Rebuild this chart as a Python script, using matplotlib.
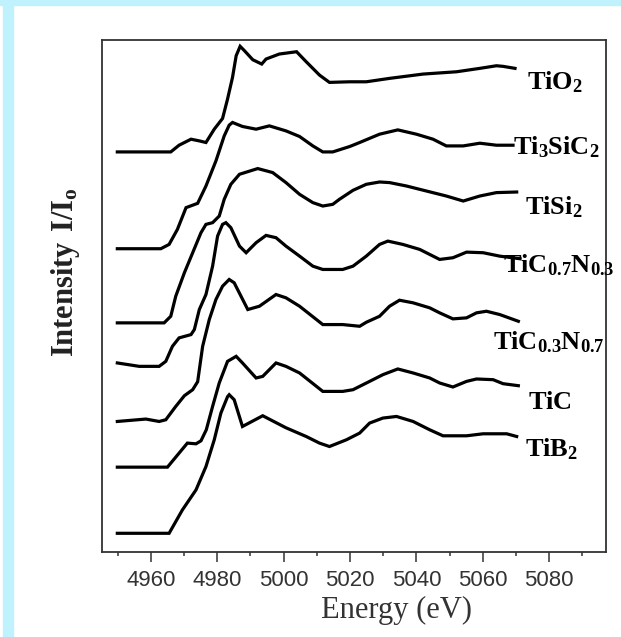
import matplotlib
matplotlib.use('Agg')
import matplotlib.pyplot as plt
from matplotlib.patches import Rectangle

plt.rcParams['mathtext.fontset'] = 'custom'
plt.rcParams['mathtext.bf'] = 'Liberation Serif:bold'
plt.rcParams['mathtext.rm'] = 'Liberation Serif:bold'

# Ti K-edge XANES spectra, stacked (energy in eV, intensity in arb. units with offset)
tio2_e = [4949.9, 4966.0, 4968.5, 4972.1, 4974.6, 4976.6, 4979.1, 4981.6, 4983.1, 4984.6,
          4985.7, 4986.9, 4988.2, 4990.7, 4993.4, 4994.7, 4998.7, 5003.9, 5006.8, 5010.8,
          5013.8, 5019.9, 5024.9, 5031.9, 5042.0, 5052.1, 5059.1, 5064.1, 5066.1, 5069.7]
tio2_i = [3.993, 3.993, 4.06, 4.12, 4.103, 4.087, 4.22, 4.327, 4.52, 4.737,
          4.953, 5.047, 5.003, 4.913, 4.87, 4.92, 4.97, 4.993, 4.893, 4.76,
          4.687, 4.693, 4.693, 4.727, 4.77, 4.793, 4.827, 4.853, 4.847, 4.827]

ti3sic2_e = [4949.9, 4963.0, 4965.5, 4968.0, 4970.6, 4974.1, 4976.6, 4979.6, 4982.1, 4983.6,
             4984.6, 4987.6, 4991.7, 4995.7, 5000.7, 5004.8, 5008.8, 5011.8, 5014.8, 5019.9,
             5022.9, 5028.9, 5034.4, 5040.0, 5045.0, 5049.0, 5054.1, 5059.1, 5064.1, 5069.1]
ti3sic2_i = [3.027, 3.027, 3.07, 3.22, 3.437, 3.48, 3.653, 3.903, 4.153, 4.26,
             4.287, 4.247, 4.22, 4.253, 4.203, 4.147, 4.053, 3.993, 3.993, 4.047,
             4.087, 4.17, 4.213, 4.17, 4.12, 4.053, 4.053, 4.08, 4.06, 4.06]

tisi2_e = [4949.9, 4964.0, 4966.0, 4967.5, 4970.1, 4972.6, 4975.1, 4976.6, 4978.6, 4980.6,
           4982.1, 4984.1, 4986.7, 4992.2, 4996.7, 5000.7, 5004.8, 5008.8, 5011.8, 5014.8,
           5016.8, 5020.9, 5024.9, 5028.9, 5031.9, 5037.0, 5043.0, 5049.0, 5054.1, 5059.1,
           5064.1, 5070.2]
tisi2_i = [2.287, 2.287, 2.353, 2.553, 2.787, 2.987, 3.187, 3.27, 3.287, 3.353,
           3.52, 3.67, 3.77, 3.827, 3.787, 3.687, 3.57, 3.487, 3.453, 3.47,
           3.52, 3.61, 3.67, 3.693, 3.687, 3.653, 3.603, 3.553, 3.503, 3.553,
           3.587, 3.593]

ticn73_e = [4949.9, 4956.5, 4962.5, 4964.5, 4966.5, 4968.5, 4972.1, 4973.1, 4974.6, 4976.6,
            4978.6, 4980.1, 4981.6, 4982.6, 4984.1, 4986.7, 4988.7, 4991.7, 4994.7, 4997.7,
            5000.7, 5004.8, 5008.8, 5011.8, 5017.8, 5020.9, 5024.9, 5028.9, 5031.4, 5035.9,
            5041.0, 5047.0, 5051.0, 5055.1, 5060.1, 5065.1, 5071.2]
ticn73_i = [1.887, 1.853, 1.853, 1.903, 2.053, 2.137, 2.17, 2.22, 2.42, 2.57,
            2.853, 3.153, 3.27, 3.287, 3.237, 3.053, 2.987, 3.087, 3.16, 3.137,
            3.053, 2.953, 2.853, 2.82, 2.82, 2.853, 2.953, 3.07, 3.103, 3.07,
            3.02, 2.92, 2.937, 2.993, 2.987, 2.953, 2.927]

ticn37_e = [4949.9, 4958.5, 4962.5, 4964.5, 4967.5, 4970.1, 4972.6, 4974.1, 4975.6, 4977.6,
            4979.6, 4981.6, 4983.6, 4985.1, 4989.2, 4992.7, 4997.7, 5000.7, 5004.8, 5011.8,
            5017.8, 5022.9, 5024.9, 5028.9, 5031.9, 5034.9, 5039.0, 5044.0, 5047.0, 5051.0,
            5055.1, 5058.1, 5061.1, 5065.1, 5070.7]
ticn37_i = [1.303, 1.327, 1.303, 1.32, 1.453, 1.56, 1.62, 1.70, 2.053, 2.32,
            2.52, 2.653, 2.72, 2.687, 2.42, 2.453, 2.57, 2.537, 2.453, 2.27,
            2.27, 2.253, 2.293, 2.353, 2.453, 2.513, 2.487, 2.437, 2.387, 2.327,
            2.337, 2.387, 2.403, 2.37, 2.303]

tic_e = [4949.9, 4965.0, 4968.5, 4971.0, 4973.6, 4975.1, 4976.7, 4978.6, 4980.6, 4983.1,
         4985.7, 4987.6, 4991.7, 4993.7, 4997.7, 5000.7, 5004.8, 5011.8, 5017.8, 5020.9,
         5025.9, 5029.9, 5034.4, 5039.0, 5044.0, 5047.0, 5051.0, 5055.1, 5058.1, 5063.1,
         5066.1, 5070.7]
tic_i = [0.847, 0.847, 0.987, 1.087, 1.08, 1.11, 1.22, 1.453, 1.687, 1.903,
         1.953, 1.887, 1.737, 1.753, 1.887, 1.853, 1.787, 1.603, 1.603, 1.62,
         1.703, 1.77, 1.827, 1.787, 1.737, 1.687, 1.647, 1.703, 1.727, 1.72,
         1.68, 1.66]

tib2_e = [4949.9, 4965.5, 4969.5, 4973.6, 4976.6, 4979.1, 4981.1, 4983.1, 4983.6, 4985.1,
          4987.6, 4993.7, 5000.7, 5006.8, 5010.8, 5013.8, 5018.9, 5022.9, 5025.9, 5029.9,
          5034.0, 5039.0, 5044.0, 5048.0, 5055.1, 5060.1, 5067.2, 5070.2]
tib2_i = [0.187, 0.187, 0.42, 0.62, 0.853, 1.12, 1.387, 1.55, 1.57, 1.52,
          1.253, 1.36, 1.24, 1.153, 1.087, 1.053, 1.12, 1.187, 1.287, 1.337,
          1.353, 1.303, 1.22, 1.16, 1.16, 1.18, 1.18, 1.153]

labels = [r'$\mathbf{TiO_2}$', r'$\mathbf{Ti_3SiC_2}$', r'$\mathbf{TiSi_2}$',
          r'$\mathbf{TiC_{0.7}N_{0.3}}$', r'$\mathbf{TiC_{0.3}N_{0.7}}$',
          r'$\mathbf{TiC}$', r'$\mathbf{TiB_2}$']
label_e = [5073.3, 5069.1, 5072.7, 5066.1, 5063.1, 5073.7, 5072.7]
label_i = [4.613, 3.97, 3.37, 2.787, 2.027, 1.427, 0.953]

series = [(tio2_e, tio2_i), (ti3sic2_e, ti3sic2_i), (tisi2_e, tisi2_i),
          (ticn73_e, ticn73_i), (ticn37_e, ticn37_i), (tic_e, tic_i), (tib2_e, tib2_i)]

fig = plt.figure(figsize=(6.21, 6.37), dpi=100)
fig.patches.append(Rectangle((0, 1 - 5 / 637), 1, 5 / 637, transform=fig.transFigure,
                             color='#c0f2fd', zorder=0))
fig.patches.append(Rectangle((2.7 / 621, 0), 10 / 621, 1, transform=fig.transFigure,
                             color='#c0f2fd', zorder=0))

ax = fig.add_axes([0.1638, 0.1334, 0.812, 0.8038])

for (e, i) in series:
    ax.plot(e, i, color='black', lw=2.3, solid_joinstyle='miter')

for txt, e, i in zip(labels, label_e, label_i):
    ax.text(e, i, txt, fontsize=19, ha='left', va='baseline', color='black', clip_on=False)

ax.set_xlim(4945.2, 5097.1)
ax.set_ylim(0, 5.11)
ax.set_xticks(range(4960, 5081, 20))
ax.set_xticks(range(4950, 5091, 20), minor=True)
ax.set_yticks([])
ax.tick_params(axis='x', which='major', direction='out', length=7, width=1.1,
               colors='#333333', labelsize=16, pad=6)
ax.tick_params(axis='x', which='minor', direction='out', length=3, width=1.1, colors='#333333')
for lab in ax.get_xticklabels():
    lab.set_fontfamily('Liberation Sans')
for sp in ax.spines.values():
    sp.set_color('#333333')
    sp.set_linewidth(1.3)

ax.set_xlabel('Energy (eV)', fontsize=22, fontfamily='Liberation Serif', color='#333333')
ax.xaxis.set_label_coords(0.584, -0.085)
ax.set_ylabel(r'$\mathbf{Intensity\ I/I_o}$', fontsize=22, color='#222222')
ax.yaxis.set_label_coords(-0.04, 0.547)

fig.savefig('out.png', dpi=100)
